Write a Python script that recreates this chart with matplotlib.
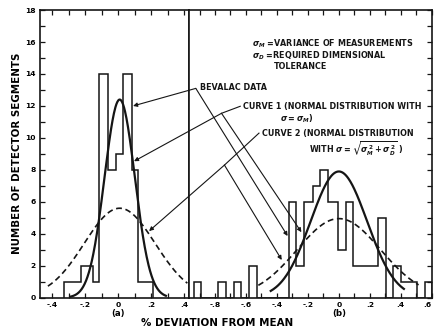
import numpy as np
import matplotlib
matplotlib.use("Agg")
import matplotlib.pyplot as plt
from matplotlib.ticker import FixedLocator, MultipleLocator

# ---------------- data ----------------
# panel (a): histogram (bin edges in % deviation, counts)
hist_a_edges = [-0.33, -0.225, -0.15, -0.115, -0.06, -0.01, 0.03, 0.085, 0.12, 0.21]
hist_a_counts = [1, 2, 1, 14, 8, 9, 14, 8, 1]
# panel (b): histogram
hist_b_edges = [-0.936, -0.889, -0.782, -0.728, -0.680, -0.629, -0.580, -0.531,
                -0.325, -0.276, -0.225, -0.170, -0.123, -0.070, -0.006, 0.043,
                0.094, 0.255, 0.306, 0.350, 0.401, 0.446, 0.503, 0.554, 0.6]
hist_b_counts = [1, 0, 1, 0, 1, 0, 2, 0, 6, 2, 6, 7, 8, 6, 3, 6, 2, 5, 0, 2, 1, 1, 0, 1]

# normal curves: mean, peak height, sigma, drawn range
curve1_a = [0.01, 12.4, 0.092, -0.29, 0.29]
curve2_a = [0.01, 5.6, 0.215, -0.425, 0.42]
curve1_b = [0.0, 7.9, 0.182, -0.44, 0.42]
curve2_b = [0.0, 4.95, 0.27, -0.52, 0.515]

xticks_a = [-0.4, -0.2, 0.0, 0.2, 0.4]
xticklabels_a = ["-.4", "-.2", "0", ".2", ".4"]
xticks_b = [-0.8, -0.6, -0.4, -0.2, 0.0, 0.2, 0.4, 0.6]
xticklabels_b = ["-.8", "-.6", "-.4", "-.2", "0", ".2", ".4", ".6"]
yticks = [0, 2, 4, 6, 8, 10, 12, 14, 16, 18]

# ---------------- figure ----------------
plt.rcParams["font.family"] = ["DejaVu Sans"]
plt.rcParams["font.weight"] = "bold"
plt.rcParams["mathtext.fontset"] = "dejavusans"
INK = "#151515"

fig = plt.figure(figsize=(4.37, 3.36), dpi=100)
axL = fig.add_axes([0.0915, 0.114, 0.341, 0.856])
axR = fig.add_axes([0.4325, 0.114, 0.5555, 0.856])


def gauss(c, n=200):
    m, h, s, a, b = c
    x = np.linspace(a, b, n)
    return x, h * np.exp(-(x - m) ** 2 / (2 * s ** 2))


for ax, edges, counts, c1, c2 in [
    (axL, hist_a_edges, hist_a_counts, curve1_a, curve2_a),
    (axR, hist_b_edges, hist_b_counts, curve1_b, curve2_b),
]:
    ax.stairs(counts, edges, baseline=0, color=INK, lw=1.1)
    x, y = gauss(c1)
    ax.plot(x, y, color=INK, lw=1.6)
    x, y = gauss(c2)
    ax.plot(x, y, color=INK, lw=1.2, linestyle=(0, (3.5, 2.2)))
    ax.set_ylim(0, 18)
    for sp in ax.spines.values():
        sp.set_linewidth(1.2)
        sp.set_color(INK)
    ax.yaxis.set_major_locator(FixedLocator(yticks))
    ax.yaxis.set_minor_locator(MultipleLocator(1))
    ax.xaxis.set_minor_locator(MultipleLocator(0.1))
    ax.tick_params(which="both", direction="in", length=3.5, width=0.9,
                   color=INK, top=True, bottom=True)

axL.set_xlim(-0.473, 0.43)
axR.set_xlim(-0.968, 0.6)
axL.set_xticks(xticks_a)
axL.set_xticklabels(xticklabels_a)
axR.set_xticks(xticks_b)
axR.set_xticklabels(xticklabels_b)
axL.set_yticks(yticks)
axL.set_yticklabels([str(v) for v in yticks])
axL.tick_params(which="both", left=True, right=False)
axR.tick_params(which="both", left=False, right=True, labelleft=False)
for ax in (axL, axR):
    ax.tick_params(axis="both", labelsize=5.4, pad=3)
    for lab in ax.get_xticklabels() + ax.get_yticklabels():
        lab.set_fontweight("bold")
axR.get_xticklabels()[-1].set_horizontalalignment("right")

axL.annotate("(a)", xy=(0, 0), xycoords=("data", "axes fraction"),
             xytext=(0, -11.5), textcoords="offset points",
             ha="center", va="center", fontsize=6.2, fontweight="bold")
axR.annotate("(b)", xy=(0, 0), xycoords=("data", "axes fraction"),
             xytext=(0, -11.5), textcoords="offset points",
             ha="center", va="center", fontsize=6.2, fontweight="bold")

fig.text(0.038, 0.545, "NUMBER OF DETECTOR SEGMENTS", rotation=90,
         ha="center", va="center", fontsize=7.4, fontweight="bold")
fig.text(0.497, 0.039, "% DEVIATION FROM MEAN", ha="center", va="center",
         fontsize=7.4, fontweight="bold")

# ---------------- annotation texts (right-panel coordinates) ----------------
notes = [
    (-0.56, 15.92, r"$\sigma_M$ =VARIANCE OF MEASUREMENTS"),
    (-0.56, 15.17, r"$\sigma_D$ =REQUIRED DIMENSIONAL"),
    (-0.42, 14.48, "TOLERANCE"),
    (-0.898, 13.17, "BEVALAC DATA"),
    (-0.618, 11.98, "CURVE 1 (NORMAL DISTRIBUTION WITH"),
    (-0.382, 11.17, r"$\sigma = \sigma_M$)"),
    (-0.497, 10.29, "CURVE 2 (NORMAL DISTRIBUTION"),
    (-0.19, 9.3, r"WITH $\sigma = \sqrt{\sigma_M^{\,2} + \sigma_D^{\,2}}$ )"),
]
for x, y, s in notes:
    axR.text(x, y, s, ha="left", va="center", fontsize=5.8,
             fontweight="bold", color=INK, clip_on=False)

ap = dict(arrowstyle="-|>", lw=0.8, color=INK, mutation_scale=6,
          shrinkA=0, shrinkB=0)

# BEVALAC DATA arrows
axR.annotate("", xy=(0.091, 12.0), xycoords=axL.transData,
             xytext=(-0.924, 13.1), textcoords=axR.transData,
             arrowprops=ap, annotation_clip=False)
axR.annotate("", xy=(-0.331, 3.86), xycoords=axR.transData,
             xytext=(-0.924, 13.1), textcoords=axR.transData,
             arrowprops=ap, annotation_clip=False)

# CURVE 1 leader and arrows
axR.plot([-0.637, -0.758], [11.98, 11.54], color=INK, lw=0.8, clip_on=False)
axR.annotate("", xy=(0.097, 8.54), xycoords=axL.transData,
             xytext=(-0.758, 11.54), textcoords=axR.transData,
             arrowprops=ap, annotation_clip=False)
axR.annotate("", xy=(-0.242, 4.1), xycoords=axR.transData,
             xytext=(-0.758, 11.54), textcoords=axR.transData,
             arrowprops=ap, annotation_clip=False)

# CURVE 2 leader and arrows
axR.plot([-0.516, -0.739], [10.3, 8.3], color=INK, lw=0.8, clip_on=False)
axR.annotate("", xy=(0.188, 4.17), xycoords=axL.transData,
             xytext=(-0.739, 8.3), textcoords=axR.transData,
             arrowprops=ap, annotation_clip=False)
axR.annotate("", xy=(-0.369, 2.36), xycoords=axR.transData,
             xytext=(-0.739, 8.3), textcoords=axR.transData,
             arrowprops=ap, annotation_clip=False)

fig.savefig("out.png", dpi=100)
